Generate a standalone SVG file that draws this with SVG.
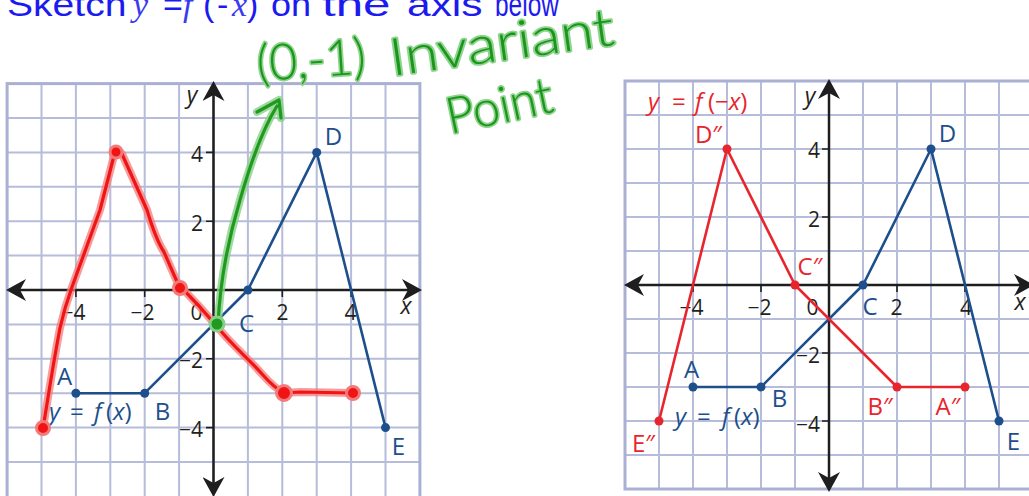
<svg xmlns="http://www.w3.org/2000/svg" width="1029" height="496" viewBox="0 0 1029 496">
<style>
.grid{fill:none;stroke:#b6bcda;stroke-width:2}
.frame{fill:none;stroke:#a9b0d3;stroke-width:3}
.axis{fill:none;stroke:#1e1e1e;stroke-width:2.5;marker-start:url(#ah);marker-end:url(#ah)}
.tick{stroke:#1e1e1e;stroke-width:1.6}
.num{font-family:"Open Sans","Liberation Sans",sans-serif;font-size:21px;fill:#231f20}
.var{font-family:"Open Sans","Liberation Sans",sans-serif;font-size:23px;font-style:italic;fill:#231f20}
.blue{stroke:#1d4f8c;stroke-width:2.6;fill:none;stroke-linejoin:round}
.bdot{fill:#1d4f8c}
.bl{font-family:"Open Sans","Liberation Sans",sans-serif;font-size:24px;fill:#1d4f8c}
.red{stroke:#e8242c;stroke-width:2.6;fill:none;stroke-linejoin:round}
.rdot{fill:#e8242c}
.rl{font-family:"Open Sans","Liberation Sans",sans-serif;font-size:24px;fill:#e8242c}
.it{font-style:italic}
.hand-r-halo{stroke:#f47a7a;stroke-width:8;fill:none;stroke-linecap:round;stroke-linejoin:round;opacity:0.75}
.hand-r{stroke:#f01414;stroke-width:3.2;fill:none;stroke-linecap:round;stroke-linejoin:round}
.hand-g-halo{stroke:#86d086;stroke-width:8;fill:none;stroke-linecap:round;stroke-linejoin:round;opacity:0.8}
.hand-g{stroke:#1f9a1f;stroke-width:3.2;fill:none;stroke-linecap:round;stroke-linejoin:round}
.gtext{font-family:Lato,"Open Sans","DejaVu Sans",sans-serif;font-weight:300;fill:#1a961a;stroke:#8fd38f;stroke-width:3.5;stroke-linejoin:round;paint-order:stroke}
.title{font-family:"Liberation Sans","DejaVu Sans",sans-serif;font-size:34px;fill:#1b1bf0}
.title-it{font-family:"Liberation Serif",serif;font-style:italic;fill:#3a3af0}
</style>
<defs>
<marker id="ah" viewBox="0 0 20 22" refX="8" refY="11" markerWidth="20" markerHeight="22" markerUnits="userSpaceOnUse" orient="auto-start-reverse">
<path d="M0 0L20 11L0 22L6 11Z" fill="#1e1e1e"/>
</marker>
</defs>
<rect width="1029" height="496" fill="#ffffff"/>

<g id="title">
<text class="title" transform="translate(7 16) scale(1.15 1)">Sketch</text>
<text class="title title-it" x="133" y="16">y</text>
<text class="title" x="163" y="16">=</text>
<text class="title title-it" x="183" y="16">f</text>
<text class="title" x="203" y="16">(</text>
<text class="title" x="217" y="16">-</text>
<text class="title title-it" x="232" y="16">x</text>
<text class="title" x="247" y="16">)</text>
<text class="title" transform="translate(271 16) scale(1.06 1)">on</text>
<text class="title" transform="translate(322 16) scale(1.45 1)">the</text>
<text class="title" transform="translate(407 16) scale(1.25 1)">axis</text>
<text class="title" transform="translate(495 16) scale(0.72 1)">below</text>
</g>

<g id="left-graph">
<path class="grid" d="M41.5 83.6V496.4M75.9 83.6V496.4M110.3 83.6V496.4M144.7 83.6V496.4M179.1 83.6V496.4M213.5 83.6V496.4M247.9 83.6V496.4M282.3 83.6V496.4M316.7 83.6V496.4M351.1 83.6V496.4M385.5 83.6V496.4M7.1 118H419.9M7.1 152.4H419.9M7.1 186.8H419.9M7.1 221.2H419.9M7.1 255.6H419.9M7.1 290H419.9M7.1 324.4H419.9M7.1 358.8H419.9M7.1 393.2H419.9M7.1 427.6H419.9M7.1 462H419.9"/>
<rect class="frame" x="7.1" y="83.6" width="412.8" height="414"/>
<line class="axis" x1="18" y1="290" x2="410" y2="290"/>
<line class="axis" x1="213.5" y1="93" x2="213.5" y2="485"/>
<path class="tick" d="M206 152.4H213.5M206 221.2H213.5M206 358.8H213.5M206 427.6H213.5M75.9 290V297M144.7 290V297M282.3 290V297M351.1 290V297"/>
<text class="num" x="203" y="162" text-anchor="end">4</text>
<text class="num" x="203" y="231" text-anchor="end">2</text>
<text class="num" x="203" y="368" text-anchor="end">−2</text>
<text class="num" x="203" y="437" text-anchor="end">−4</text>
<text class="num" x="73.5" y="320" text-anchor="middle">−4</text>
<text class="num" x="142.5" y="320" text-anchor="middle">−2</text>
<text class="num" x="196.5" y="320" text-anchor="middle">0</text>
<text class="num" x="282.5" y="320" text-anchor="middle">2</text>
<text class="num" x="350.5" y="320" text-anchor="middle">4</text>
<text class="var" x="406" y="314" text-anchor="middle">x</text>
<text class="var" x="192" y="103" text-anchor="middle">y</text>
</g>

<g id="left-fx">
<path class="blue" d="M75.9 393.2L144.7 393.2L247.9 290L316.7 152.4L385.5 427.6"/>
<circle class="bdot" cx="75.9" cy="393.2" r="4.5"/>
<circle class="bdot" cx="144.7" cy="393.2" r="4.5"/>
<circle class="bdot" cx="247.9" cy="290" r="4.5"/>
<circle class="bdot" cx="316.7" cy="152.4" r="4.5"/>
<circle class="bdot" cx="385.5" cy="427.6" r="4.5"/>
<text class="bl" x="333.5" y="145" text-anchor="middle">D</text>
<text class="bl" x="246.5" y="332" text-anchor="middle">C</text>
<text class="bl" x="64.5" y="385" text-anchor="middle">A</text>
<text class="bl" x="162.5" y="420" text-anchor="middle">B</text>
<text class="bl" x="398.5" y="455" text-anchor="middle">E</text>
<text class="bl" y="420" font-size="25"><tspan x="49" class="it">y</tspan><tspan x="70">=</tspan><tspan x="94" class="it">f</tspan><tspan x="106">(<tspan class="it">x</tspan>)</tspan></text>
</g>

<g id="left-sketch">
<path class="hand-r-halo" d="M43 428C47 405 52 370 60 328C64 310 68 298 72 287L100 210L115 152Q119 149 122 154L147 210C150 220 156 240 164 252L178 284C190 296 205 312 220 330C235 348 250 360 262 374C270 383 278 390 284 393L300 392L353 393"/>
<path class="hand-r" d="M43 428C47 405 52 370 60 328C64 310 68 298 72 287L100 210L115 152Q119 149 122 154L147 210C150 220 156 240 164 252L178 284C190 296 205 312 220 330C235 348 250 360 262 374C270 383 278 390 284 393L300 392L353 393"/>
<g fill="#f01414" stroke="#f47a7a" stroke-width="3">
<circle cx="43" cy="428" r="6.5"/>
<circle cx="116" cy="152" r="6"/>
<circle cx="180" cy="288" r="6.5"/>
<circle cx="284" cy="393" r="7.5"/>
<circle cx="353" cy="393" r="6.5"/>
</g>
</g>

<g id="invariant-note">
<path class="hand-g-halo" d="M218 325C220 280 228 240 240 200C250 165 262 130 277 106M257 112L279 100L281 118"/>
<path class="hand-g" d="M218 325C220 280 228 240 240 200C250 165 262 130 277 106M257 112L279 100L281 118"/>
<circle cx="217" cy="324" r="7" fill="#1f9a1f" stroke="#86d086" stroke-width="3"/>
<text class="gtext" font-size="50" transform="translate(258 81) rotate(-4)" textLength="109" lengthAdjust="spacingAndGlyphs">(0,-1)</text>
<text class="gtext" font-size="52" transform="translate(392 76) rotate(-8)" textLength="226" lengthAdjust="spacingAndGlyphs">Invariant</text>
<text class="gtext" font-size="50" transform="translate(450 134) rotate(-12)" textLength="108" lengthAdjust="spacingAndGlyphs">Point</text>
</g>

<g id="right-graph">
<path class="grid" d="M659 81V489M693 81V489M727 81V489M761 81V489M795 81V489M829 81V489M863 81V489M897 81V489M931 81V489M965 81V489M999 81V489M625 115H1029M625 149H1029M625 183H1029M625 217H1029M625 251H1029M625 285H1029M625 319H1029M625 353H1029M625 387H1029M625 421H1029M625 455H1029"/>
<rect class="frame" x="625" y="81" width="408" height="408"/>
<line class="axis" x1="636" y1="285" x2="1022" y2="285"/>
<line class="axis" x1="829" y1="91" x2="829" y2="480"/>
<path class="tick" d="M822 149H829M822 217H829M822 353H829M822 421H829M693 285V292M761 285V292M897 285V292M965 285V292"/>
<text class="num" x="820" y="158" text-anchor="end">4</text>
<text class="num" x="820" y="227" text-anchor="end">2</text>
<text class="num" x="820" y="363" text-anchor="end">−2</text>
<text class="num" x="820" y="432" text-anchor="end">−4</text>
<text class="num" x="691.5" y="315" text-anchor="middle">−4</text>
<text class="num" x="759.5" y="315" text-anchor="middle">−2</text>
<text class="num" x="812.5" y="315" text-anchor="middle">0</text>
<text class="num" x="896.5" y="315" text-anchor="middle">2</text>
<text class="num" x="966" y="315" text-anchor="middle">4</text>
<text class="var" x="1020" y="310" text-anchor="middle">x</text>
<text class="var" x="810" y="104" text-anchor="middle">y</text>
</g>

<g id="right-fx">
<path class="blue" d="M693 387L761 387L863 285L931 149L999 421"/>
<circle class="bdot" cx="693" cy="387" r="4.5"/>
<circle class="bdot" cx="761" cy="387" r="4.5"/>
<circle class="bdot" cx="863" cy="285" r="4.5"/>
<circle class="bdot" cx="931" cy="149" r="4.5"/>
<circle class="bdot" cx="999" cy="421" r="4.5"/>
<text class="bl" x="947.5" y="142" text-anchor="middle">D</text>
<text class="bl" x="870" y="315" text-anchor="middle">C</text>
<text class="bl" x="691.5" y="378" text-anchor="middle">A</text>
<text class="bl" x="779.5" y="407" text-anchor="middle">B</text>
<text class="bl" x="1013.5" y="450" text-anchor="middle">E</text>
<text class="bl" y="425" font-size="25"><tspan x="675" class="it">y</tspan><tspan x="697">=</tspan><tspan x="722" class="it">f</tspan><tspan x="734">(<tspan class="it">x</tspan>)</tspan></text>
</g>

<g id="right-fnegx">
<path class="red" d="M659 421L727 149L795 285L897 387L965 387"/>
<circle class="rdot" cx="659" cy="421" r="4.5"/>
<circle class="rdot" cx="727" cy="149" r="4.5"/>
<circle class="rdot" cx="795" cy="285" r="4.5"/>
<circle class="rdot" cx="897" cy="387" r="4.5"/>
<circle class="rdot" cx="965" cy="387" r="4.5"/>
<text class="rl" y="110" font-size="25"><tspan x="648" class="it">y</tspan><tspan x="672">=</tspan><tspan x="695" class="it">f</tspan><tspan x="708">(−<tspan class="it">x</tspan>)</tspan></text>
<text class="rl" x="708.5" y="143" text-anchor="middle">D″</text>
<text class="rl" x="810" y="275" text-anchor="middle">C″</text>
<text class="rl" x="880" y="415" text-anchor="middle">B″</text>
<text class="rl" x="948" y="415" text-anchor="middle">A″</text>
<text class="rl" x="643.5" y="452" text-anchor="middle">E″</text>
</g>
</svg>
